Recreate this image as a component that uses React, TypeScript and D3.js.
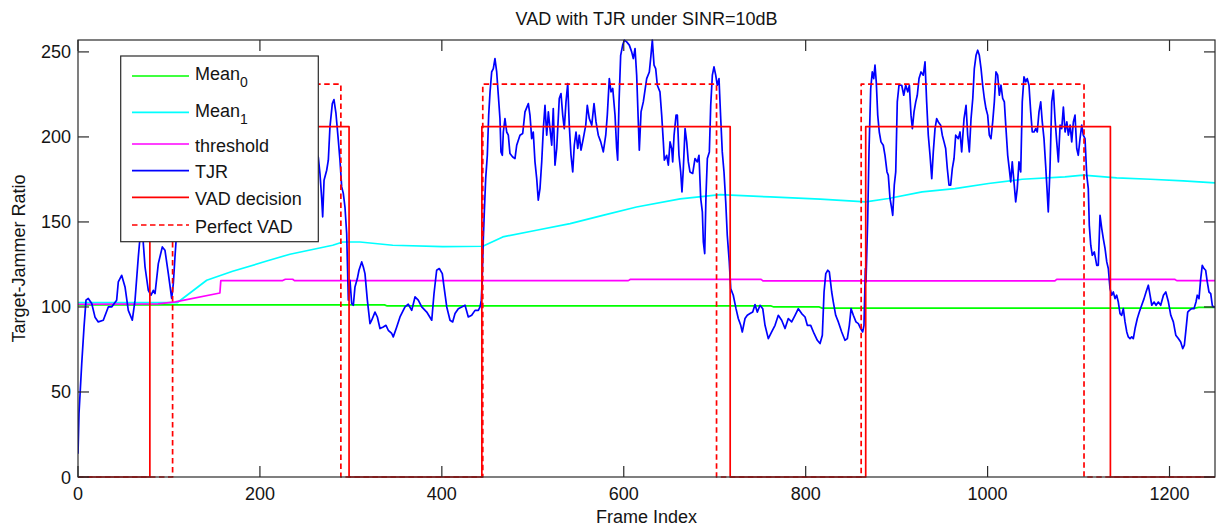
import React from 'react';
import * as d3 from 'd3';

// ---------- data ----------
const X_TICKS = [0, 200, 400, 600, 800, 1000, 1200];
const Y_TICKS = [0, 50, 100, 150, 200, 250];
const X_MAX = 1250;
const Y_MAX = 257;

const TITLE = 'VAD with TJR under SINR=10dB';
const X_LABEL = 'Frame Index';
const Y_LABEL = 'Target-Jammer Ratio';

const TJR: [number, number][] = [
  [0,13.7],[1.1,37.3],[4.1,66.7],[6.6,88],[8.8,104],[11.3,105],[15.1,102],[18.7,94],[22.3,91.2],[27.8,92.2],[33.3,100],[37,100],[42.5,104],[44.3,114.7],[48,118.6],[51.7,111.8],[55.3,98],[59.7,92.2],[62.7,104],[66.3,129.4],[68.2,141],[70,165],[71.8,137.3],[73.7,123.5],[77.3,109.8],[80.3,106.9],[82.8,109.8],[84.7,107.9],[88.3,125.5],[92.7,135.3],[95.6,133.4],[99.3,119.6],[103,105],[104.8,113.8],[106.6,129.4],[107.7,138],[112,165],[120,185],[130,172],[142,195],[155,178],[170,205],[185,190],[200,210],[215,192],[230,205],[245,185],[258,195],
  [264.2,188],[266,178.5],[267.9,164],[269,153],[270.5,174.5],[273.4,180.4],[275.2,186.3],[277,205.9],[279.6,219.6],[281.4,222],[283.6,213.8],[286.2,198],[288,186.3],[289.9,170.6],[291.7,166.7],[293.5,158.8],[295.4,143.2],[296.1,127.5],[297.2,104],[299,115.7],[300.9,102],[302.7,101],[304.5,111.8],[307.1,116.7],[308.9,121.6],[311.9,126.5],[313.7,123.5],[315.5,119.6],[318.1,104],[321,90.2],[322.9,92.2],[326.5,97],[329.1,94.1],[332,87.3],[335.6,88.2],[338.6,89.2],[341.1,86.3],[344.9,84.4],[346.6,82.4],[350.4,88.2],[354,94.1],[359.5,100],[363.1,101.6],[366.9,98],[370.5,105.9],[374.1,104],[377.9,100],[383.4,97],[388.9,92.2],[391.4,107.9],[394.3,121.6],[397.2,122.6],[400.5,119.6],[402.4,111.8],[405.4,100],[409,92.2],[411.9,91.2],[414.5,96.1],[418.1,99],[421.8,100],[425.5,101],[429.1,94.1],[432.8,95.1],[436.5,98],[440.1,98],[442,100],[443.4,104],[444.2,113.8],
  [445.6,140.2],[446.7,155.9],[448.2,175.5],[450,189.2],[451.5,212.8],[453,226.5],[454.8,238.2],[456.6,240.2],[458.4,246.1],[460.3,238.2],[462.1,224.5],[463.9,210.8],[465,191.2],[466.5,189.2],[467.6,202.9],[469.4,210.8],[471.3,202.9],[473.1,201],[474.9,190.2],[477.9,188.2],[480.4,187.3],[482.3,195.1],[485.9,201],[488.9,202],[491.4,214.7],[495.1,219.6],[496.9,212.8],[498.8,199],[500.5,202.9],[502.4,185.3],[504.3,175.5],[506,162.8],[507.9,169.6],[509.8,185.3],[511.6,204.9],[513.4,218.6],[515.3,201],[517.1,214.7],[518.9,204.9],[520.8,195.1],[522.5,216.7],[524.4,183.4],[526.3,193.2],[529.1,222.6],[531,225.5],[532.9,212.8],[534.6,204.9],[536.5,220.6],[538.4,231.4],[540.1,206.9],[542,189.2],[543.9,179.4],[545.6,195.1],[547.5,202.9],[549.4,193.2],[551.1,201],[553,192.2],[555.5,199],[558.2,206.9],[559.9,218.6],[562.1,210.8],[564.8,206.9],[567.3,219.6],[569.5,208.8],[572,201],[574.7,197.1],[577.5,191.2],[580.2,201],[581.9,212.8],[584.1,234.3],[586,226.5],[587.9,228.5],[590.4,212.8],[592.2,193.2],[593.3,186.3],[594.8,220.6],[596.6,248],[598.8,254],[600.6,256.9],[603.2,255.9],[606.1,254],[608.7,250],[610.5,246.1],[612.4,252],[614.2,236.3],[616,208.8],[617.1,192.2],[619,214.7],[621.5,220.6],[625.2,234.3],[628.1,238.2],[629.9,248],[631.4,256.9],[633.3,242.2],[635.1,240.2],[636.9,230.4],[639.8,226.5],[641.7,212.8],[643.5,197.1],[644.6,186.3],[647.2,189.2],[649,183.4],[650.9,197.1],[652.7,193.2],[653.8,185.3],[655.3,201],[657.5,212.8],[658.9,212.8],[660.7,189.2],[662.6,179.4],[664,167.6],[665.5,181.4],[667.4,204.9],[669.2,197.1],[671,185.3],[672.8,179.4],[675.8,178.5],[678.3,187.3],[680.9,185.3],[682.7,189.2],[684.6,163.8],[686.4,155.9],[687.5,138.2],[689,131.4],[690.4,165.7],[691.9,187.3],[694.1,191.2],[695.6,218.6],[697.4,236.3],[699.2,241.2],[701.1,236.3],[702.8,230.4],[704.7,234.3],[706.6,210.8],[708.3,191.2],[710.2,179.4],[712.1,161.8],[713.8,142.2],[716,126.5],[717.6,110.8],
  [720.4,106.9],[723.4,99],[725.9,93.2],[728.6,89.2],[730.3,85.3],[733.3,93.2],[735.8,95.1],[738.8,96.1],[741.8,97],[744.3,101.4],[746.8,97],[749.8,101],[752.8,99],[755.3,89.2],[758.9,81.4],[762.6,85.3],[766.3,89.2],[769.9,95.1],[773.6,92.2],[777.3,87.3],[780.9,93.2],[784.6,91.2],[788.3,95.1],[791.9,99],[795.6,96.1],[799.3,94.1],[801.8,89.2],[805.5,89.2],[809.2,84.4],[812.8,80.4],[815.8,78.5],[818.3,83.4],[820.2,108.8],[822.1,119.6],[824.3,121.6],[826,120.6],[828.6,108.8],[830.4,102.9],[833,95.1],[835.9,91.2],[839.6,85.3],[843.2,80.4],[845.8,81.4],[848,89.2],[849.9,99],[852.4,95.1],[855.3,91.2],[857.9,90.2],[860.5,87.3],[862.7,85.3],[864.1,89.2],[865.6,122.6],[866.3,114.7],
  [868.2,152],[869.6,191.2],[871.5,228.5],[873.2,238.2],[874.8,234.3],[876.2,242.2],[877.6,232.4],[879.2,212.8],[880.9,202.9],[882.8,197.1],[885.3,195.1],[887.2,189.2],[889.4,179.4],[890.8,177.5],[892.7,163.8],[894.6,157.9],[895.7,153.9],[897.4,171.6],[899,179.4],[900.7,220.6],[902.6,230.4],[905.6,230.4],[907.8,224.5],[910,230.4],[912.2,226.5],[914,230.4],[915.8,212.8],[917.3,204.9],[919.1,214.7],[921,220.6],[922.7,224.5],[924.6,234.3],[926.8,238.2],[929.3,236.3],[931.2,244.1],[933,220.6],[934.8,201],[936.7,189.2],[938.6,175.5],[940.3,191.2],[942.2,204.9],[944,210.8],[945.8,208.8],[948.4,206.9],[950.2,201],[952.1,197.1],[953.9,193.2],[955.7,181.4],[957.6,171.6],[959.4,171.6],[961.2,181.4],[963.1,187.3],[964.9,201],[967.8,199],[969.7,202.9],[971.5,191.2],[974.1,210.8],[976.3,218.6],[978.1,201],[979.9,191.2],[981.8,210.8],[983.7,222.6],[985.4,240.2],[987.3,248],[989.1,251],[990.9,248],[992.8,240.2],[994.6,230.4],[996.4,222.6],[998.2,216.7],[1000.1,212.8],[1001.9,201],[1003.7,199],[1005.6,208.8],[1007.4,220.6],[1009.2,238.2],[1011.1,236.3],[1012.9,224.5],[1014.7,230.4],[1016.6,222.6],[1018.4,220.6],[1020.2,204.9],[1022.1,189.2],[1023.8,181.4],[1025.4,173.5],[1027.1,185.3],[1029,173.5],[1030.9,161.8],[1032.6,169.6],[1034.5,185.3],[1036.4,179.4],[1038.1,220.6],[1040,235.3],[1041.9,232.4],[1043.6,234.3],[1045.5,230.4],[1047.4,214.7],[1049.1,202.9],[1051,202.9],[1052.9,204.9],[1054.6,202.9],[1056.5,214.7],[1058.4,220.6],[1060.1,208.8],[1062,199],[1063.8,183.4],[1065.3,169.6],[1066.7,155.9],[1068.6,181.4],[1070.5,220.6],[1072.3,227.5],[1074.1,210.8],[1076,197.1],[1077.8,185.3],[1079.7,206.9],[1081.5,204.9],[1083.3,217.6],[1085.2,202.9],[1087.1,208.8],[1088.8,201],[1090.7,206.9],[1092.5,197.1],[1094.3,208.8],[1096.1,212.8],[1098,193.2],[1099.7,189.2],[1101.6,199],[1103.5,206.9],[1105.2,201],[1107.1,199],[1109,177.5],[1110.7,169.6],[1111.8,148],[1113.4,136.3],[1115.1,130.4],[1117.3,132.4],[1120,124.5],[1121.7,124.5],[1123.6,153.9],[1125.5,146.1],[1127.2,140.2],[1129.1,134.4],[1131,126.5],[1132.7,122.6],[1134.6,110.8],
  [1136.5,106.9],[1138.2,108.8],[1140.1,104.9],[1141.9,106.9],[1143.7,102.9],[1145.6,96.1],[1147.4,95.1],[1149.2,99],[1151.1,91.2],[1153,85.3],[1154.7,82.4],[1156.6,81.4],[1158.4,82.4],[1160.2,81.4],[1162.1,87.3],[1164.6,93.2],[1166.8,97],[1169.4,101],[1172,104.9],[1174.2,108.8],[1176.7,112.8],[1178.6,106.9],[1180.5,101],[1183,102.9],[1185.2,101],[1187.7,102.9],[1190.3,101],[1193.3,106.9],[1195.9,108.8],[1198.8,102.9],[1201.4,95.1],[1204.2,91.2],[1206.9,83.4],[1209.7,81.4],[1212.3,79.4],[1214.5,75.5],[1216.3,77.5],[1218.2,87.3],[1220,97],[1221.8,98],[1224.4,99],[1226.9,99],[1229.1,102.9],[1230.5,106.9],[1232.4,104.9],[1234.3,116.7],[1236,124.5],[1237.9,122.6],[1239.7,121.6],[1241.5,114.7],[1243.4,108.8],[1245.3,107.9],[1247,101],[1248.2,100],[1250,100],
];

const MEAN0: [number, number][] = [
  [0,101.2],[337,101.2],[340,100.6],[762,100.6],[765,100],[815,100],[818,99.3],[1228,99.3],[1232,99.8],[1250,99.8],
];

const MEAN1: [number, number][] = [
  [0,102.5],[109,102.5],[141.5,115.7],[170,121],[207.5,127],[233,131],[280,136.3],[291,138.2],[310,138.2],[346,136.3],[401,135.5],[445,135.7],[467,141.2],[504,145.1],[541,149],[578,154],[614,158.8],[662,163.6],[706,166.1],[761,164.7],[816,163.4],[866,161.8],[891,163.8],[928,167.7],[964,169.6],[1001,172.6],[1038,175.1],[1085,176.5],[1105,177.5],[1142,175.9],[1179,175.1],[1215,174.1],[1250,173],
];

const THRESHOLD: [number, number][] = [
  [0,101.6],[88,101.8],[107,103],[156,108.2],[157,115.5],[225,115.5],[228,116.3],[236,116.3],[238,115.5],[605,115.5],[607,116.2],[751,116.2],[753,115.3],[1074,115.3],[1076,116.2],[1206,116.2],[1208,115.5],[1250,115.5],
];

const VAD_ON: [number, number][] = [[79, 298], [444, 717], [866, 1135]];
const VAD_LEVEL = 206;
const PERFECT_ON: [number, number][] = [[104, 289], [445, 702], [861, 1106]];
const PERFECT_LEVEL = 231;

const LEGEND_LABELS = [
  { text: 'Mean', sub: '0', color: '#00ff00', dash: '' },
  { text: 'Mean', sub: '1', color: '#00ffff', dash: '' },
  { text: 'threshold', sub: '', color: '#ff00ff', dash: '' },
  { text: 'TJR', sub: '', color: '#0000ff', dash: '' },
  { text: 'VAD decision', sub: '', color: '#ff0000', dash: '' },
  { text: 'Perfect VAD', sub: '', color: '#ff0000', dash: '5.5,3.5' },
];

// ---------- helpers ----------
function stepSeries(segs: [number, number][], level: number): [number, number][] {
  const pts: [number, number][] = [[0, 0]];
  for (const [a, b] of segs) {
    pts.push([a, 0], [a, level], [b, level], [b, 0]);
  }
  pts.push([X_MAX, 0]);
  return pts;
}

const W = 1219;
const H = 531;
const L = 78;
const R = 1215;
const T = 40;
const B = 477;
const FONT = '"Liberation Sans", Arial, Helvetica, sans-serif';
const AXIS = '#2a2a2a';
const TEXT = '#141414';
const TICK = 11;

export default function App() {
  const x = d3.scaleLinear().domain([0, X_MAX]).range([L, R]);
  const y = d3.scaleLinear().domain([0, Y_MAX]).range([B, T]);
  const line = d3.line<[number, number]>().x(d => x(d[0])).y(d => y(d[1]));

  const series = [
    { data: MEAN0, color: '#00ff00', dash: '' },
    { data: MEAN1, color: '#00ffff', dash: '' },
    { data: THRESHOLD, color: '#ff00ff', dash: '' },
    { data: TJR, color: '#0000ff', dash: '' },
    { data: stepSeries(VAD_ON, VAD_LEVEL), color: '#ff0000', dash: '' },
    { data: stepSeries(PERFECT_ON, PERFECT_LEVEL), color: '#ff0000', dash: '5.5,3.5' },
  ];

  // legend layout (line y, text baseline)
  const legLineY = [76, 112.3, 144, 170.7, 197.3, 225];
  const legTextY = [80, 116.7, 151.7, 178.3, 205, 232.7];

  return (
    <svg width={W} height={H} style={{ position: 'absolute', left: 0, top: 0, background: '#fff' }}
      fontFamily={FONT}>
      <defs>
        <clipPath id="plotclip">
          <rect x={L} y={T - 1} width={R - L} height={B - T + 2} />
        </clipPath>
      </defs>
      <rect x={0} y={0} width={W} height={H} fill="#fff" />
      <rect x={L} y={T} width={R - L} height={B - T} fill="#fff" />

      <g clipPath="url(#plotclip)">
        {series.map((s, i) => (
          <path key={i} d={line(s.data) || ''} fill="none" stroke={s.color} strokeWidth={1.7}
            strokeDasharray={s.dash || undefined} strokeLinejoin="round" />
        ))}
      </g>

      {/* axes box */}
      <rect x={L} y={T} width={R - L} height={B - T} fill="none" stroke={AXIS} strokeWidth={1.2} />
      {X_TICKS.map(t => (
        <g key={'x' + t}>
          <line x1={x(t)} x2={x(t)} y1={B} y2={B - TICK} stroke={AXIS} strokeWidth={1.2} />
          <line x1={x(t)} x2={x(t)} y1={T} y2={T + TICK} stroke={AXIS} strokeWidth={1.2} />
          <text x={x(t)} y={499.5} textAnchor="middle" fontSize={18} fill={TEXT}>{t}</text>
        </g>
      ))}
      {Y_TICKS.map(t => (
        <g key={'y' + t}>
          <line x1={L} x2={L + TICK} y1={y(t)} y2={y(t)} stroke={AXIS} strokeWidth={1.2} />
          <line x1={R} x2={R - TICK} y1={y(t)} y2={y(t)} stroke={AXIS} strokeWidth={1.2} />
          <text x={71} y={y(t) + 6.5} textAnchor="end" fontSize={18} fill={TEXT}>{t}</text>
        </g>
      ))}

      <text x={(L + R) / 2} y={25} textAnchor="middle" fontSize={18} fill={TEXT}>{TITLE}</text>
      <text x={(L + R) / 2} y={522.7} textAnchor="middle" fontSize={18} fill={TEXT}>{X_LABEL}</text>
      <text transform={`translate(25,${(T + B) / 2}) rotate(-90)`} textAnchor="middle" fontSize={18} fill={TEXT}>{Y_LABEL}</text>

      {/* legend */}
      <rect x={120.7} y={56} width={197.6} height={185.7} fill="#fff" stroke={AXIS} strokeWidth={1.2} />
      {LEGEND_LABELS.map((e, i) => (
        <g key={'l' + i}>
          <line x1={132} x2={189} y1={legLineY[i]} y2={legLineY[i]} stroke={e.color} strokeWidth={1.7}
            strokeDasharray={e.dash || undefined} />
          <text x={195} y={legTextY[i]} fontSize={18} fill={TEXT}>
            {e.text}
            {e.sub ? <tspan dy={7.3} fontSize={14}>{e.sub}</tspan> : null}
          </text>
        </g>
      ))}
    </svg>
  );
}
